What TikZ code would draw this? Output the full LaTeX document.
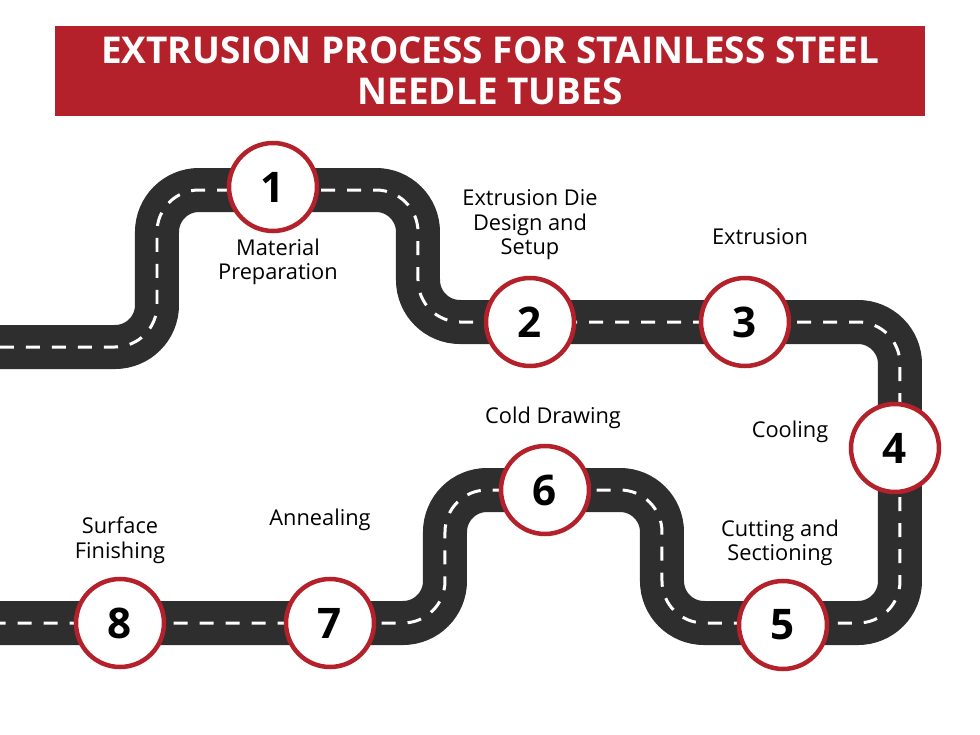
\documentclass[tikz,border=0pt]{standalone}
\usepackage{fontspec}
\setmainfont{Open Sans}
\usetikzlibrary{positioning}
\definecolor{titlered}{HTML}{B5212B}
\definecolor{road}{HTML}{2E2E2E}
\tikzset{
  roadbed/.style={draw=road, line width=0.44cm, rounded corners=0.42cm},
  roadline/.style={draw=white, line width=0.03cm, dash pattern=on 0.14cm off 0.12cm, rounded corners=0.42cm},
  stepdot/.style={circle, draw=titlered, line width=0.045cm, fill=white, minimum size=0.88cm, inner sep=0pt, font=\fontsize{12}{12}\selectfont\bfseries},
  steptext/.style={align=center, font=\fontsize{6.2}{7}\selectfont}
}
\begin{document}
\begin{tikzpicture}
\useasboundingbox (0,0) rectangle (9.8,7.35);
% title
\node[fill=titlered, minimum width=8.7cm, minimum height=0.88cm, text=white, align=center,
  font=\fontsize{10.5}{11.5}\selectfont\bfseries] (title) at (4.9,6.64)
  {EXTRUSION PROCESS FOR STAINLESS STEEL\\NEEDLE TUBES};
% road
\coordinate (r0) at (0,3.88);
\coordinate (r1) at (1.57,3.88);
\coordinate (r2) at (1.57,5.45);
\coordinate (r3) at (4.18,5.45);
\coordinate (r4) at (4.18,4.13);
\coordinate (r5) at (9.0,4.13);
\coordinate (r6) at (9.0,1.12);
\coordinate (r7) at (6.62,1.12);
\coordinate (r8) at (6.62,2.45);
\coordinate (r9) at (4.45,2.45);
\coordinate (r10) at (4.45,1.12);
\coordinate (r11) at (0,1.12);
\draw[roadbed] (r0) -- (r1) -- (r2) -- (r3) -- (r4) -- (r5) -- (r6) -- (r7) -- (r8) -- (r9) -- (r10) -- (r11);
\draw[roadline] (r0) -- (r1) -- (r2) -- (r3) -- (r4) -- (r5) -- (r6) -- (r7) -- (r8) -- (r9) -- (r10) -- (r11);
% steps
\node[stepdot] (s1) at (2.73,5.48) {1};
\node[stepdot] (s2) at (5.30,4.13) {2};
\node[stepdot] (s3) at (7.45,4.13) {3};
\node[stepdot] (s4) at (8.95,2.87) {4};
\node[stepdot] (s5) at (7.83,1.10) {5};
\node[stepdot] (s6) at (5.45,2.45) {6};
\node[stepdot] (s7) at (3.30,1.12) {7};
\node[stepdot] (s8) at (1.20,1.12) {8};
% labels
\node[steptext] (t1) at (2.78,4.73) {Material\\Preparation};
\node[steptext] (t2) at (5.30,5.10) {Extrusion Die\\Design and\\Setup};
\node[steptext] (t3) at (7.60,4.98) {Extrusion};
\node[steptext] (t4) at (7.90,3.03) {Cooling};
\node[steptext] (t5) at (7.80,1.92) {Cutting and\\Sectioning};
\node[steptext] (t6) at (5.53,3.17) {Cold Drawing};
\node[steptext] (t7) at (3.20,2.15) {Annealing};
\node[steptext] (t8) at (1.20,1.95) {Surface\\Finishing};
\end{tikzpicture}
\end{document}
